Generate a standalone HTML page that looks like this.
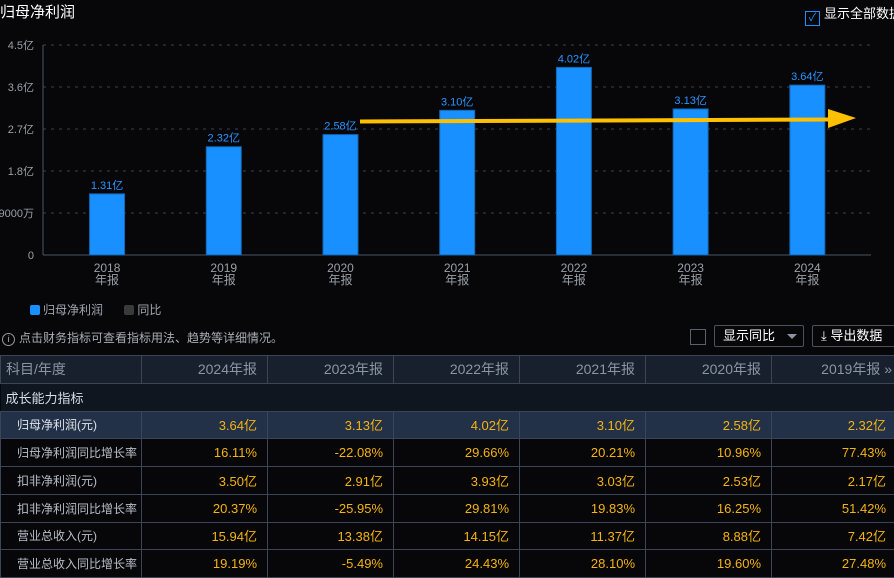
<!DOCTYPE html>
<html><head><meta charset="utf-8"><style>
body{margin:0;width:894px;height:577px;background:#070709;overflow:hidden;font-family:"Liberation Sans","Noto Sans CJK SC",sans-serif;position:relative}
.a{position:absolute}
table{position:absolute;left:0;top:355px;border-collapse:collapse;width:896px;table-layout:fixed}
td{border:1px solid #3a4657;height:26.75px;padding:0 10px;font-size:13px;color:#f5b40f;text-align:right;white-space:nowrap;overflow:hidden}
td.n{color:#b8bec8;text-align:left;padding-left:16px;padding-right:0;font-size:12px}
tr.h td{background:#18202d;color:#8a94a3;font-size:14px}
tr.h td.n{padding-left:5px;font-size:14px}
tr.s td{background:#101620;color:#d8dde4;text-align:left;padding-left:5px;border-left:none;border-right:none}
tr.hl td{background:#223148}
tr.hl td.n{color:#e0e4ea}
</style></head><body>
<div class="a" style="left:0;top:1px;font-size:15px;color:#fff">归母净利润</div>
<div class="a" style="left:805px;top:3px;font-size:13px;color:#fff;white-space:nowrap"><span style="display:inline-block;width:13px;height:13px;border:1px solid #1e8fff;vertical-align:-3px;margin-right:4px;color:#1e8fff;font-size:11px;line-height:13px;text-align:center">✓</span>显示全部数据</div>
<svg class="a" style="left:0;top:0" width="894" height="300" id="chart"></svg>
<div class="a" style="left:30px;top:301px;font-size:12px;color:#a0a6ae">
<span><span style="display:inline-block;width:10px;height:10px;background:#1890ff;border-radius:2px;vertical-align:-1px;margin-right:3px"></span>归母净利润</span>
<span style="margin-left:18px"><span style="display:inline-block;width:10px;height:10px;background:#3a3a3a;border-radius:2px;vertical-align:-1px;margin-right:3px"></span>同比</span></div>
<div class="a" style="left:2px;top:329px;font-size:12px;color:#a8adb4"><span style="display:inline-block;width:11px;height:11px;border:1px solid #999;border-radius:50%;font-size:9px;line-height:11px;text-align:center;margin-right:4px">i</span>点击财务指标可查看指标用法、趋势等详细情况。</div>
<div class="a" style="left:690px;top:329px;width:14px;height:14px;border:1px solid #5a6270"></div>
<div class="a" style="left:714px;top:325px;height:20px;border:1px solid #4a5260;border-radius:2px;font-size:13px;color:#fff;line-height:20px;padding-left:8px;width:80px">显示同比<span style="position:absolute;right:6px;top:8px;border:5px solid transparent;border-top-color:#8a94a3"></span></div>
<div class="a" style="left:812px;top:325px;width:90px;height:20px;border:1px solid #4a5260;border-radius:2px;font-size:13px;color:#fff;line-height:20px;padding-left:8px">⤓ 导出数据</div>
<table>
<colgroup><col style="width:141px"><col style="width:126px"><col style="width:126px"><col style="width:126px"><col style="width:126px"><col style="width:126px"><col style="width:125px"></colgroup>
<tr class="h"><td class="n">科目/年度</td><td>2024年报</td><td>2023年报</td><td>2022年报</td><td>2021年报</td><td>2020年报</td><td style="padding-right:4px">2019年报 »</td></tr>
<tr class="s"><td colspan="7">成长能力指标</td></tr>
<tr class="hl"><td class="n">归母净利润(元)</td><td>3.64亿</td><td>3.13亿</td><td>4.02亿</td><td>3.10亿</td><td>2.58亿</td><td>2.32亿</td></tr>
<tr><td class="n">归母净利润同比增长率</td><td>16.11%</td><td>-22.08%</td><td>29.66%</td><td>20.21%</td><td>10.96%</td><td>77.43%</td></tr>
<tr><td class="n">扣非净利润(元)</td><td>3.50亿</td><td>2.91亿</td><td>3.93亿</td><td>3.03亿</td><td>2.53亿</td><td>2.17亿</td></tr>
<tr><td class="n">扣非净利润同比增长率</td><td>20.37%</td><td>-25.95%</td><td>29.81%</td><td>19.83%</td><td>16.25%</td><td>51.42%</td></tr>
<tr><td class="n">营业总收入(元)</td><td>15.94亿</td><td>13.38亿</td><td>14.15亿</td><td>11.37亿</td><td>8.88亿</td><td>7.42亿</td></tr>
<tr><td class="n">营业总收入同比增长率</td><td>19.19%</td><td>-5.49%</td><td>24.43%</td><td>28.10%</td><td>19.60%</td><td>27.48%</td></tr>
</table>
<script>
const categories=["2018","2019","2020","2021","2022","2023","2024"];
const values=[1.31,2.32,2.58,3.10,4.02,3.13,3.64];
const valueLabels=["1.31亿","2.32亿","2.58亿","3.10亿","4.02亿","3.13亿","3.64亿"];
const ticks=[0,0.9,1.8,2.7,3.6,4.5];
const tickLabels=["0","9000万","1.8亿","2.7亿","3.6亿","4.5亿"];
const svg=document.getElementById('chart');
const NS='http://www.w3.org/2000/svg';
const L=43,R=871,T=45,B=255,maxV=4.5;
const BL=48.7,BR=865.7;
const y=v=>B-(v/maxV)*(B-T);
const band=(BR-BL)/categories.length;
const x=i=>BL+band*(i+0.5);
function mk(t,a,txt){const e=document.createElementNS(NS,t);for(const k in a)e.setAttribute(k,a[k]);if(txt!=null)e.textContent=txt;svg.appendChild(e);return e;}
ticks.forEach((t,i)=>{
 if(t>0){const g=mk('line',{x1:L,x2:R,y1:y(t),y2:y(t),stroke:'#3a4252','stroke-dasharray':'3,5'});
 
 }
 const l=mk('text',{x:34,y:y(t)+4,'text-anchor':'end','font-size':11,fill:'#9aa0a8'},tickLabels[i]);
 
 
});
const ax=mk('line',{x1:L,x2:R,y1:B,y2:B,stroke:'#4a5566'});


const ay=mk('line',{x1:L,x2:L,y1:T,y2:B,stroke:'#4a5566'});


categories.forEach((c,i)=>{
 const b=mk('rect',{x:x(i)-17.5,y:y(values[i]),width:35,height:B-y(values[i]),fill:'#1890ff',stroke:'#1565b0','stroke-width':1});
 
 
 const v=mk('text',{x:x(i),y:y(values[i])-5,'text-anchor':'middle','font-size':11,fill:'#2a95ff'},valueLabels[i]);
 
 
 const t1=mk('text',{x:x(i),y:B+17,'text-anchor':'middle','font-size':12,fill:'#9aa0a8'},c);
 
 
 const t2=mk('text',{x:x(i),y:B+29,'text-anchor':'middle','font-size':12,fill:'#9aa0a8'},'年报');
 
 
});
const ar=mk('path',{d:'M360 119.5 L828 117.5 L828 109 L856 118 L828 128 L828 121.5 L360 123.5 Z',fill:'#ffc000'});


</script>
</body></html>
